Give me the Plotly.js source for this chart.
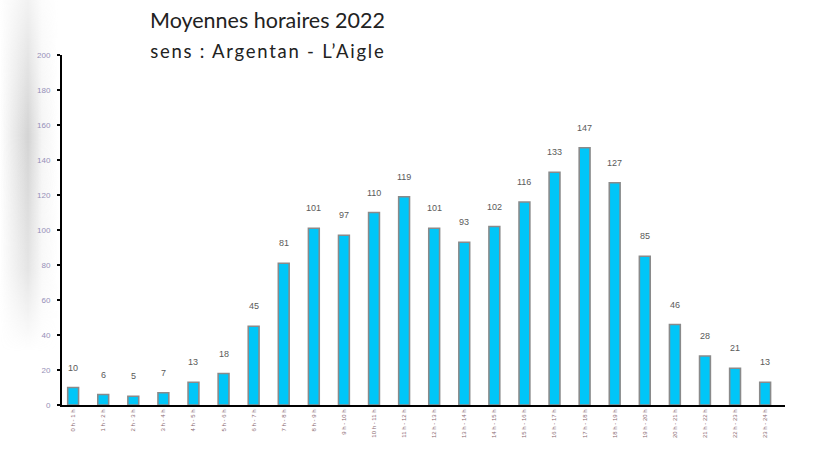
<!DOCTYPE html>
<html>
<head>
<meta charset="utf-8">
<script src="https://cdn.plot.ly/plotly-3.0.1.min.js"></script>
<style>
  html, body { margin: 0; padding: 0; background: #fff; }
  #wrap { position: relative; width: 816px; height: 451px; overflow: hidden; }
  #shade {
    position: absolute; left: 0; top: 0; width: 70px; height: 451px;
    background: linear-gradient(to right, rgba(255,255,255,0) 0px, rgba(170,170,170,0.5) 28px, rgba(215,215,215,0.25) 42px, rgba(255,255,255,0) 58px);
    -webkit-mask-image: linear-gradient(to bottom, rgba(0,0,0,0.3) 0%, rgba(0,0,0,1) 30%, rgba(0,0,0,0.6) 60%, rgba(0,0,0,0) 78%);
    mask-image: linear-gradient(to bottom, rgba(0,0,0,0.3) 0%, rgba(0,0,0,1) 30%, rgba(0,0,0,0.6) 60%, rgba(0,0,0,0) 78%);
  }
  #chart { position: absolute; left: 0; top: 0; width: 816px; height: 451px; }
</style>
</head>
<body>
<div id="wrap"><div id="shade"></div><div id="chart"></div></div>
<script>
const hours = ["0 h - 1 h","1 h - 2 h","2 h - 3 h","3 h - 4 h","4 h - 5 h","5 h - 6 h","6 h - 7 h","7 h - 8 h",
               "8 h - 9 h","9 h - 10 h","10 h - 11 h","11 h - 12 h","12 h - 13 h","13 h - 14 h","14 h - 15 h","15 h - 16 h",
               "16 h - 17 h","17 h - 18 h","18 h - 19 h","19 h - 20 h","20 h - 21 h","21 h - 22 h","22 h - 23 h","23 h - 24 h"];
const values = [10, 6, 5, 7, 13, 18, 45, 81, 101, 97, 110, 119, 101, 93, 102, 116, 133, 147, 127, 85, 46, 28, 21, 13];
const yTicks = [0, 20, 40, 60, 80, 100, 120, 140, 160, 180, 200];
const titleText = "Moyennes horaires 2022";
const subtitleText = "sens : Argentan - L\u2019Aigle";

const idx = hours.map((_, i) => i);

const trace = {
  type: 'bar',
  x: idx,
  y: values,
  width: 0.36,
  marker: { color: '#00c6f8', line: { color: '#8a8a8a', width: 1.6 } },
  hoverinfo: 'skip'
};

const valueLabels = values.map((v, i) => ({
  x: i, y: v, xref: 'x', yref: 'y', text: String(v), showarrow: false,
  yanchor: 'bottom', yshift: 13,
  font: { family: 'Liberation Sans, Arial, sans-serif', size: 9, color: '#5a5a5a' }
}));

const layout = {
  width: 816, height: 451,
  margin: { l: 62, r: 31, t: 55, b: 46 },
  paper_bgcolor: 'rgba(0,0,0,0)',
  plot_bgcolor: 'rgba(0,0,0,0)',
  showlegend: false,
  bargap: 0,
  xaxis: {
    range: [-0.37, 23.66],
    tickmode: 'array', tickvals: idx, ticktext: hours,
    tickangle: -90,
    tickfont: { family: 'Liberation Sans, Arial, sans-serif', size: 6, color: '#8a6a70' },
    showline: true, linecolor: '#000', linewidth: 2,
    ticks: '', showgrid: false, zeroline: false, fixedrange: true
  },
  yaxis: {
    range: [0, 200],
    tickmode: 'array', tickvals: yTicks, ticktext: yTicks.map(String),
    tickfont: { family: 'Liberation Sans, Arial, sans-serif', size: 8, color: '#958fb8' },
    showline: true, linecolor: '#000', linewidth: 2,
    ticks: 'outside', ticklen: 3, tickwidth: 1.5, tickcolor: '#000',
    ticklabelstandoff: 5,
    showgrid: false, zeroline: false, fixedrange: true
  },
  annotations: [
    { xref: 'paper', yref: 'paper', x: (148 - 62) / 723, y: 1 + (55 - 20) / 350, xanchor: 'left', yanchor: 'middle',
      text: titleText, showarrow: false,
      font: { family: 'Lato, Open Sans, sans-serif', size: 21.5, color: '#222' } },
    { xref: 'paper', yref: 'paper', x: (170 - 62) / 723, y: 1 + (55 - 51) / 350, xanchor: 'left', yanchor: 'middle',
      text: subtitleText, showarrow: false,
      font: { family: 'Lato, Open Sans, sans-serif', size: 18.5, color: '#222' } }
  ].concat(valueLabels)
};

Plotly.newPlot('chart', [trace], layout, { displayModeBar: false, staticPlot: true }).then(function () {
  const sub = document.querySelector('.annotation[data-index="1"] text');
  if (sub) { sub.style.letterSpacing = '1.75px'; }
});
</script>
</body>
</html>
